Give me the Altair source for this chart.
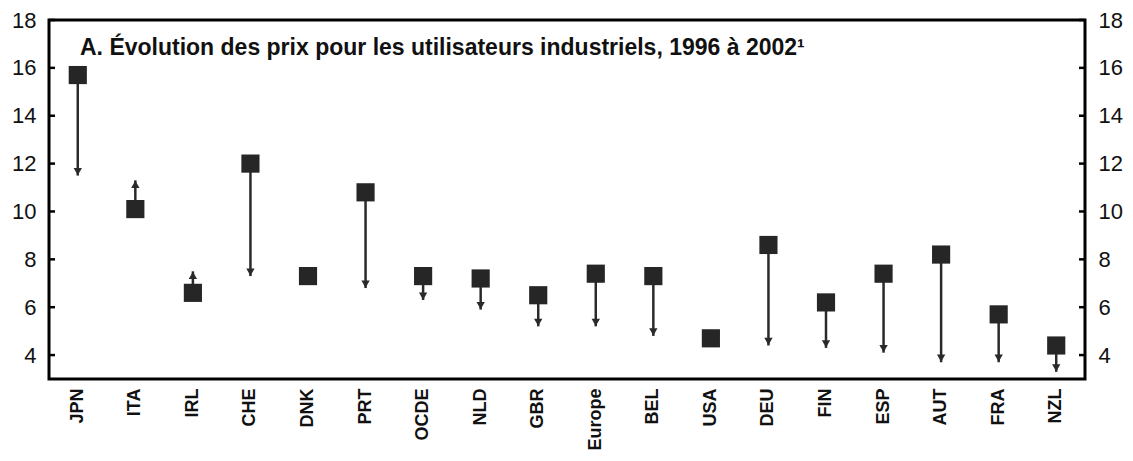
import altair as alt
import pandas as pd

countries = ["JPN", "ITA", "IRL", "CHE", "DNK", "PRT", "OCDE", "NLD", "GBR",
             "Europe", "BEL", "USA", "DEU", "FIN", "ESP", "AUT", "FRA", "NZL"]
p1996 = [15.7, 10.1, 6.6, 12.0, 7.3, 10.8, 7.3, 7.2, 6.5,
         7.4, 7.3, 4.7, 8.6, 6.2, 7.4, 8.2, 5.7, 4.4]
p2002 = [11.5, 11.3, 7.5, 7.3, 7.3, 6.8, 6.3, 5.9, 5.2,
         5.2, 4.8, 4.7, 4.4, 4.3, 4.1, 3.7, 3.7, 3.3]
y_ticks = [4, 6, 8, 10, 12, 14, 16, 18]
title_text = ["A. Évolution des prix pour les utilisateurs industriels, 1996 à 2002¹"]

FONT = "Liberation Sans"
W, H = 1036, 359

df = pd.DataFrame({"country": countries, "p1996": p1996, "p2002": p2002})
down = df[df.p2002 < df.p1996]
up = df[df.p2002 > df.p1996]
changed = df[df.p2002 != df.p1996]
ticks_df = pd.DataFrame({"v": y_ticks})
title_df = pd.DataFrame({"t": title_text})

ysc = alt.Scale(domain=[3, 18], nice=False, zero=False)
xenc = alt.X("country:N", sort=countries,
             scale=alt.Scale(paddingInner=0, paddingOuter=0),
             axis=alt.Axis(title=None, labelAngle=270, labelFontSize=18,
                           labelFontWeight="bold", labelPadding=9,
                           domain=False, ticks=False, labelColor="#111",
                           labelFont=FONT, labelLimit=100))

left_axis = alt.Axis(values=y_ticks, title=None, orient="left", domain=False,
                     ticks=False, grid=False, labelFontSize=22, labelPadding=13,
                     labelColor="#111", labelFont=FONT)
right_axis = alt.Axis(values=y_ticks, title=None, orient="right", domain=False,
                      ticks=False, grid=False, labelFontSize=22, labelPadding=13,
                      labelColor="#111", labelFont=FONT)

rules = alt.Chart(changed).mark_rule(strokeWidth=2.5, color="#2a2a2a").encode(
    x=xenc,
    y=alt.Y("p1996:Q", scale=ysc, axis=left_axis),
    y2="p2002:Q",
)

heads_down = alt.Chart(down).mark_point(
    shape="triangle-down", filled=True, size=70, yOffset=-4,
    color="#2a2a2a", opacity=1).encode(
    x=xenc, y=alt.Y("p2002:Q", scale=ysc, axis=None))

heads_up = alt.Chart(up).mark_point(
    shape="triangle-up", filled=True, size=70, yOffset=4,
    color="#2a2a2a", opacity=1).encode(
    x=xenc, y=alt.Y("p2002:Q", scale=ysc, axis=None))

squares = alt.Chart(df).mark_point(
    shape="square", filled=True, size=330, color="#262626", opacity=1).encode(
    x=xenc, y=alt.Y("p1996:Q", scale=ysc, axis=right_axis))

ticks_left = alt.Chart(ticks_df).mark_rule(strokeWidth=2.5, color="black").encode(
    x=alt.value(0), x2=alt.value(6), y=alt.Y("v:Q", scale=ysc, axis=None))
ticks_right = alt.Chart(ticks_df).mark_rule(strokeWidth=2.5, color="black").encode(
    x=alt.value(W - 6), x2=alt.value(W), y=alt.Y("v:Q", scale=ysc, axis=None))

title = alt.Chart(title_df).mark_text(
    align="left", baseline="alphabetic", fontSize=23, fontWeight="bold",
    font=FONT, color="#111").encode(
    x=alt.value(31), y=alt.value(35), text="t:N")

chart = alt.layer(
    ticks_left, ticks_right, rules, heads_down, heads_up, squares, title
).resolve_scale(y="independent").properties(
    width=W, height=H,
    autosize=alt.AutoSizeParams(type="none"),
    padding={"left": 41, "top": 12, "right": 40, "bottom": 74},
).configure_view(stroke="black", strokeWidth=3).configure_axis(grid=False)

chart.save("out.html", embed_options={"renderer": "svg", "actions": False})
